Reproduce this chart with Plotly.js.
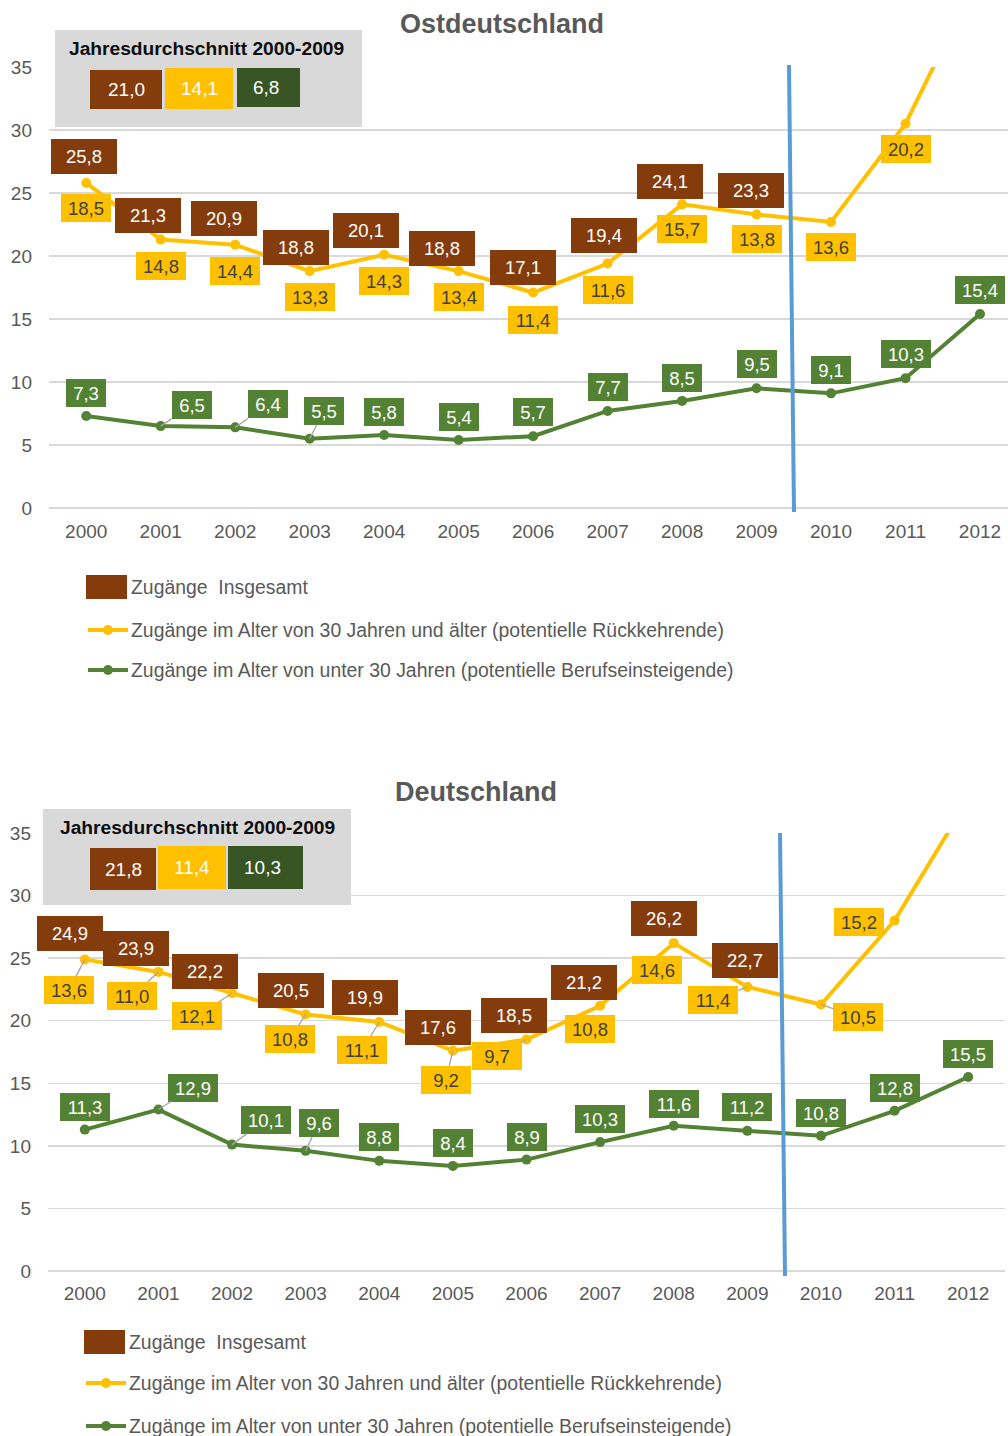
<!DOCTYPE html>
<html><head><meta charset="utf-8">
<script src="https://cdn.plot.ly/plotly-3.0.1.min.js"></script>
<style>html,body{margin:0;padding:0;background:#fff}</style>
</head><body><div id="chart" style="width:1008px;height:1436px"></div>
<script>
// ---------------- DATA ----------------
const years = [2000,2001,2002,2003,2004,2005,2006,2007,2008,2009,2010,2011,2012];
// Ostdeutschland
const ostInsgesamt = [25.8,21.3,20.9,18.8,20.1,18.8,17.1,19.4,24.1,23.3,22.7,30.5,42.5];
const ostAb30      = [18.5,14.8,14.4,13.3,14.3,13.4,11.4,11.6,15.7,13.8,13.6,20.2,27.1];
const ostUnter30   = [7.3,6.5,6.4,5.5,5.8,5.4,5.7,7.7,8.5,9.5,9.1,10.3,15.4];
const ostMittel    = [21.0,14.1,6.8];
// Deutschland
const deInsgesamt  = [24.9,23.9,22.2,20.5,19.9,17.6,18.5,21.2,26.2,22.7,21.3,28.0,37.7];
const deAb30       = [13.6,11.0,12.1,10.8,11.1,9.2,9.7,10.8,14.6,11.4,10.5,15.2,22.2];
const deUnter30    = [11.3,12.9,10.1,9.6,8.8,8.4,8.9,10.3,11.6,11.2,10.8,12.8,15.5];
const deMittel     = [21.8,11.4,10.3];
const nLabelInsgesamt = 10;   // labels for 2000-2009
const nLabelAb30 = 12;        // labels for 2000-2011
const titles = ['Ostdeutschland','Deutschland'];
const avgTitle = 'Jahresdurchschnitt 2000-2009';
const legendNames = ['Zugänge&#160; Insgesamt',
  'Zugänge im Alter von 30 Jahren und älter (potentielle Rückkehrende)',
  'Zugänge im Alter von unter 30 Jahren (potentielle Berufseinsteigende)'];

// ---------------- STYLE (label offsets in px, leader flag) ----------------
const ostOffInsg  = [[-2,-26],[-13,-24],[-11,-26],[-14,-24],[-18,-24],[-17,-23],[-10,-25],[-4,-28],[-12,-23],[-6,-24]];
const ostOffAb30  = [[0,25],[0,26],[0,26],[0,26],[0,26],[0,26],[0,27],[0,26],[0,25],[0,25],[0,25],[0,25]];
const ostOffUnter = [[0,-23],[31,-21,1],[33,-23,1],[14,-28,1],[0,-23],[0,-23],[0,-24],[0,-24],[0,-23],[0,-24],[0,-23],[0,-24],[0,-24]];
const deOffInsg   = [[-15,-26],[-22,-23],[-27,-22],[-15,-24],[-14,-24],[-15,-23],[-13,-24],[-16,-23],[-10,-25],[-2,-26]];
const deOffAb30   = [[-16,31,1],[-26,24,1],[-35,23,1],[-16,25,1],[-17,28,1],[-7,29,1],[-30,17,1],[-10,23],[-17,27],[-34,13,1],[37,13,1],[-36,1]];
const deOffUnter  = [[0,-23],[35,-22,1],[34,-25,1],[13,-28,1],[0,-24],[0,-23],[0,-23],[0,-23],[0,-22],[0,-24],[0,-23],[0,-23],[0,-23]];

const W = 1008, H = 1436;
const FONT = 'Liberation Sans, Arial, sans-serif';
const BROWN = '#843C0C', YELLOW = '#FFC000', GREEN = '#548235', DGREEN = '#375623';
const GRAY = '#595959', GRID = '#D9D9D9', BLUE = '#5B9BD5';
const px = x => x / W, py = y => 1 - y / H;
const fmt = v => v.toFixed(1).replace('.', ',');

function lineTrace(y, color, xa, ya, name) {
  return {x: years, y: y, xaxis: xa, yaxis: ya, name: name, mode: 'lines+markers', showlegend: false,
    line: {color: color, width: 4}, marker: {color: color, size: 10}, hoverinfo: 'skip'};
}
const traces = [
  lineTrace(ostInsgesamt, YELLOW, 'x', 'y', legendNames[1]),
  lineTrace(ostUnter30, GREEN, 'x', 'y', legendNames[2]),
  lineTrace(deInsgesamt, YELLOW, 'x2', 'y2', legendNames[1]),
  lineTrace(deUnter30, GREEN, 'x2', 'y2', legendNames[2])
];

const annotations = [];
const shapes = [];
function label(xa, ya, x, y, v, off, bg, fg, w, h) {
  const leader = off[2] === 1;
  annotations.push({xref: xa, yref: ya, x: x, y: y, text: fmt(v), showarrow: true,
    ax: off[0], ay: off[1], arrowhead: 0, arrowwidth: leader ? 1.3 : 0.1, standoff: 0,
    arrowcolor: leader ? '#A6A6A6' : 'rgba(0,0,0,0)',
    bgcolor: bg, width: w, height: h, borderpad: 0, borderwidth: 0,
    font: {family: FONT, size: 18.5, color: fg}});
}
function addLabels(xa, ya, tot, ab30, unter, offI, offA, offU) {
  for (let i = 0; i < nLabelInsgesamt; i++)
    label(xa, ya, years[i], tot[i], tot[i], offI[i], BROWN, '#FFFFFF', 66, 35);
  for (let i = 0; i < nLabelAb30; i++)
    label(xa, ya, years[i], tot[i], ab30[i], offA[i], YELLOW, '#404040', 50, 28);
  for (let i = 0; i < unter.length; i++)
    label(xa, ya, years[i], unter[i], unter[i], offU[i], GREEN, '#FFFFFF', fmt(unter[i]).length > 3 ? 50 : 40, 28);
}
addLabels('x', 'y', ostInsgesamt, ostAb30, ostUnter30, ostOffInsg, ostOffAb30, ostOffUnter);
addLabels('x2', 'y2', deInsgesamt, deAb30, deUnter30, deOffInsg, deOffAb30, deOffUnter);

function text(x, y, t, size, color, bold, anchor) {
  annotations.push({xref: 'paper', yref: 'paper', x: px(x), y: py(y), text: bold ? '<b>' + t + '</b>' : t,
    showarrow: false, xanchor: anchor || 'center', yanchor: 'middle',
    font: {family: FONT, size: size, color: color}});
}
function rect(x0, y0, x1, y1, color) {
  shapes.push({type: 'rect', xref: 'paper', yref: 'paper', x0: px(x0), x1: px(x1), y0: py(y1), y1: py(y0),
    fillcolor: color, line: {width: 0}, layer: 'below'});
}
// titles
text(502, 24, titles[0], 27, GRAY, true);
text(476, 792, titles[1], 27, GRAY, true);

// average boxes
function avgBox(g, vals) {
  rect(g.x0, g.y0, g.x1, g.y1, '#D9D9D9');
  text(g.tx, g.ty, avgTitle, 19.2, '#0D0D0D', true);
  const cols = [BROWN, YELLOW, DGREEN];
  g.boxes.forEach((b, i) => {
    rect(b[0], b[1], b[2], b[3], cols[i]);
    text((b[0] + b[2]) / 2 - (i === 2 ? 3 : 0), (b[1] + b[3]) / 2, fmt(vals[i]), 19, '#FFFFFF', false);
  });
}
avgBox({x0: 55, y0: 30, x1: 362, y1: 127, tx: 206, ty: 48,
  boxes: [[90, 70, 162, 109], [165, 68, 233, 109], [237, 68, 300, 107]]}, ostMittel);
avgBox({x0: 43, y0: 809, x1: 351, y1: 905, tx: 197, ty: 827,
  boxes: [[90, 848, 156, 890], [158, 846, 226, 889], [228, 846, 303, 889]]}, deMittel);

// legends
function legend(lx, boxY, y1, y2, tx) {
  rect(lx, boxY - 12, lx + 41, boxY + 12, BROWN);
  text(tx, boxY, legendNames[0], 19.4, GRAY, false, 'left');
  [[y1, YELLOW], [y2, GREEN]].forEach(([yy, c], i) => {
    shapes.push({type: 'line', xref: 'paper', yref: 'paper', x0: px(lx + 2), x1: px(lx + 42), y0: py(yy), y1: py(yy),
      line: {color: c, width: 4}});
    shapes.push({type: 'circle', xref: 'paper', yref: 'paper', x0: px(lx + 17), x1: px(lx + 27), y0: py(yy + 5), y1: py(yy - 5),
      fillcolor: c, line: {width: 0}});
    text(tx, yy, legendNames[i + 1], 19.4, GRAY, false, 'left');
  });
}
legend(86, 587, 630, 670, 129);
legend(84, 1342, 1383, 1426, 127);

// vertical separators
shapes.push({type: 'line', xref: 'paper', yref: 'paper', x0: px(789), y0: py(65), x1: px(794), y1: py(512),
  line: {color: BLUE, width: 4}, layer: 'above'});
shapes.push({type: 'line', xref: 'paper', yref: 'paper', x0: px(780), y0: py(833), x1: px(785), y1: py(1276),
  line: {color: BLUE, width: 4}, layer: 'above'});

const xBase = {tickmode: 'array', tickvals: years, ticktext: years.map(String), showgrid: false, zeroline: false,
  showline: false, ticks: '', tickfont: {family: FONT, size: 19, color: GRAY}, ticklabelstandoff: 10, fixedrange: true};
const yBase = {range: [0, 35], dtick: 5, tick0: 0, showgrid: true, gridcolor: GRID, gridwidth: 1.5,
  zeroline: true, zerolinecolor: GRID, zerolinewidth: 1.5, showline: false, ticks: '',
  tickfont: {family: FONT, size: 19, color: GRAY}, ticklabelstandoff: 16, fixedrange: true};

const layout = {
  width: W, height: H, margin: {l: 0, r: 0, t: 0, b: 0}, paper_bgcolor: '#FFFFFF', plot_bgcolor: '#FFFFFF',
  showlegend: false, font: {family: FONT},
  xaxis: Object.assign({}, xBase, {domain: [px(49), 1], range: [1999.5, 2012.376], anchor: 'y'}),
  yaxis: Object.assign({}, yBase, {domain: [py(508), py(67)], anchor: 'x'}),
  xaxis2: Object.assign({}, xBase, {domain: [px(48), px(1005)], range: [1999.5, 2012.5], anchor: 'y2', ticklabelstandoff: 9}),
  yaxis2: Object.assign({}, yBase, {domain: [py(1271), py(833)], anchor: 'x2'}),
  annotations: annotations, shapes: shapes
};
Plotly.newPlot('chart', traces, layout, {displayModeBar: false, staticPlot: true});
</script>
</body></html>
